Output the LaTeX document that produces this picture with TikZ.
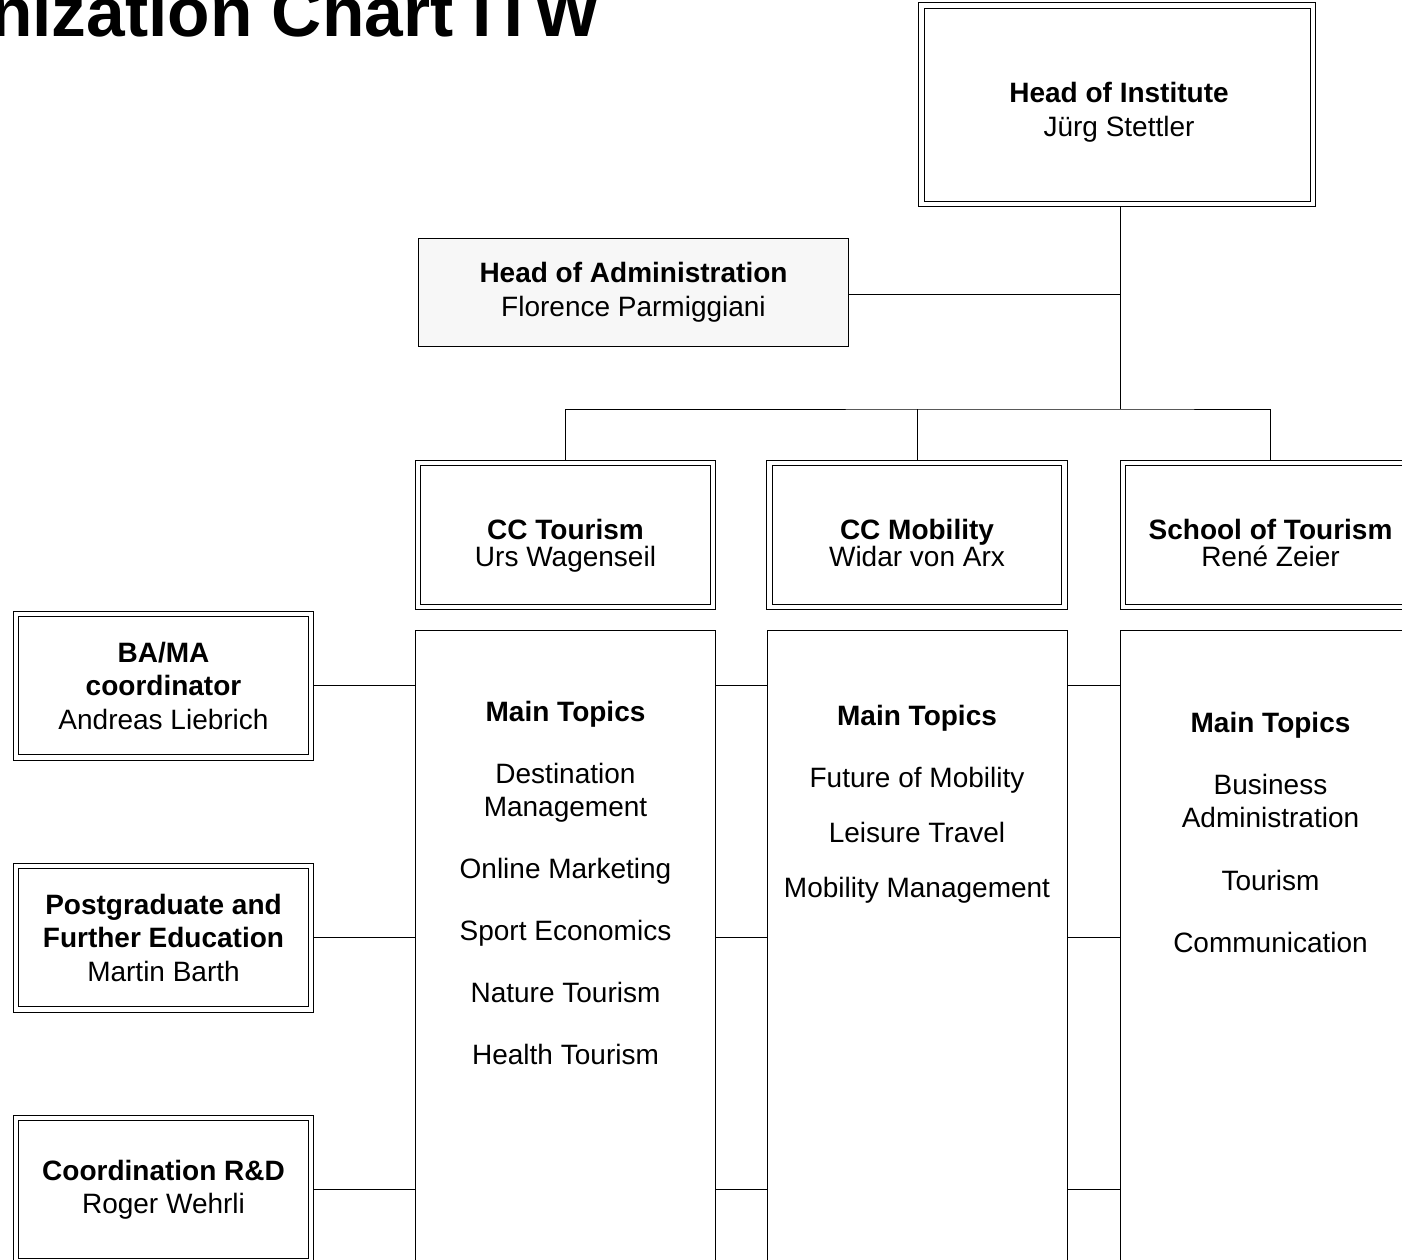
\documentclass[tikz,border=0pt]{standalone}
\usepackage{fontspec}
\setmainfont{Liberation Sans}
\usetikzlibrary{positioning}

\begin{document}
\begin{tikzpicture}[x=1pt, y=-1pt, node distance=20pt, line width=1pt,
  every node/.style={font=\fontsize{28}{34}\selectfont}]
\tikzstyle{dbl}=[draw, double, double distance=4.5pt, outer sep=3.25pt, fill=white, inner sep=0pt, align=center]
\tikzstyle{ccbox}=[dbl, minimum width=295pt, minimum height=144pt]
\tikzstyle{sidebox}=[dbl, minimum width=295pt, minimum height=143.5pt, font=\fontsize{28}{33.5}\selectfont]
\tikzstyle{topicbox}=[draw, minimum width=300pt, minimum height=700pt, inner sep=0pt]
\tikzstyle{topiclist}=[align=center, inner sep=0pt, font=\fontsize{28}{33}\selectfont]
\tikzstyle{ttl}=[align=center, inner sep=0pt, text depth=6pt, font=\fontsize{28}{27}\selectfont]

\useasboundingbox (0,0) rectangle (1402,1259);
\clip (0,0) rectangle (1402,1259);

\node[anchor=base east, font=\fontsize{69.5}{70}\selectfont\bfseries] (title) at (604,36) {nization Chart ITW};

% top of the chart
\node[dbl, minimum width=391.5pt, minimum height=198.5pt,
  label={[ttl, font=\fontsize{28}{34}\selectfont, xshift=2pt, yshift=-8pt]center:{\textbf{Head of Institute}\\J\"urg Stettler}}] (hoi) at (1117,104.5) {};
\node[draw, fill=black!3, minimum width=430pt, minimum height=108pt, align=center, inner sep=0pt] (admin) at (633.5,292.5) {\textbf{Head of Administration}\\Florence Parmiggiani};
\coordinate (jn) at (1120,294);
\coordinate (bus) at (1120,409);

% competence centers
\node[ccbox, label={[ttl, yshift=-11pt]center:{\textbf{CC Tourism}\\Urs Wagenseil}}] (cctour) at (565.5,535) {};
\node[ccbox, right=50pt of cctour, label={[ttl, yshift=-11pt]center:{\textbf{CC Mobility}\\Widar von Arx}}] (ccmob) {};
\node[ccbox, right=52pt of ccmob, label={[ttl, yshift=-11pt]center:{\textbf{School of Tourism}\\Ren\'e Zeier}}] (school) {};

\node[topicbox, below=of cctour] (tourtop) {};
\node[topicbox, below=of ccmob] (mobtop) {};
\node[topicbox, below=of school] (schooltop) {};

\node[topiclist, below=70.5pt of tourtop.north] (tourlist) {\textbf{Main Topics}\\[29pt]Destination\\Management\\[29pt]Online Marketing\\[29pt]Sport Economics\\[29pt]Nature Tourism\\[29pt]Health Tourism};
\node[topiclist, below=74.5pt of mobtop.north] (moblist) {\textbf{Main Topics}\\[29pt]Future of Mobility\\[22pt]Leisure Travel\\[22pt]Mobility Management};
\node[topiclist, below=81.5pt of schooltop.north] (schoollist) {\textbf{Main Topics}\\[29pt]Business\\Administration\\[30pt]Tourism\\[29pt]Communication};

% staff on the left
\node[sidebox] (bama) at (163.5,685.5) {\textbf{BA/MA}\\\textbf{coordinator}\\Andreas Liebrich};
\node[sidebox, below=102pt of bama] (postgrad) {\textbf{Postgraduate and}\\\textbf{Further Education}\\Martin Barth};
\node[sidebox, below=102pt of postgrad] (coordrd) {\textbf{Coordination R\&D}\\Roger Wehrli};

\draw (hoi.south -| jn) -- (bus);
\draw (admin.east |- jn) -- (jn);
\draw (cctour.north) |- (bus) -| (school.north);
\draw (ccmob.north) -- (ccmob.north |- bus);

\draw (bama.east) -- (bama.east -| tourtop.west);
\draw (postgrad.east) -- (postgrad.east -| tourtop.west);
\draw (coordrd.east) -- (coordrd.east -| tourtop.west);
\draw (bama.east -| tourtop.east) -- (bama.east -| mobtop.west);
\draw (postgrad.east -| tourtop.east) -- (postgrad.east -| mobtop.west);
\draw (coordrd.east -| tourtop.east) -- (coordrd.east -| mobtop.west);
\draw (bama.east -| mobtop.east) -- (bama.east -| schooltop.west);
\draw (postgrad.east -| mobtop.east) -- (postgrad.east -| schooltop.west);
\draw (coordrd.east -| mobtop.east) -- (coordrd.east -| schooltop.west);
\end{tikzpicture}
\end{document}
